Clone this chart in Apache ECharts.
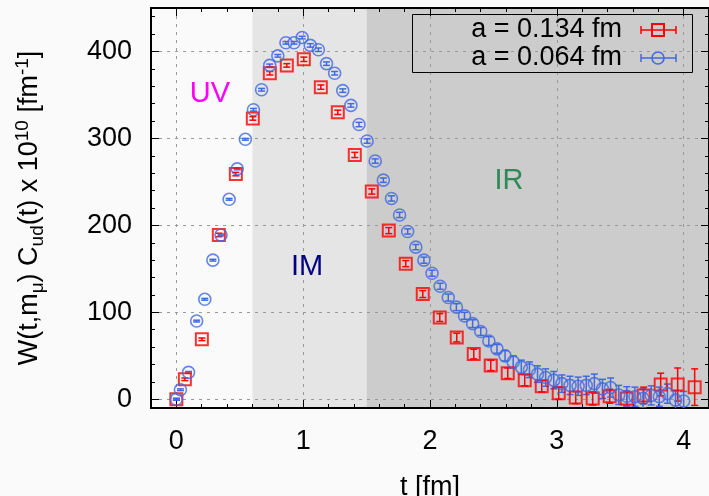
<!DOCTYPE html>
<html><head><meta charset="utf-8">
<script src="https://cdn.jsdelivr.net/npm/echarts/dist/echarts.min.js"></script>
<style>html,body{margin:0;padding:0;background:#fafafa}#c{width:709px;height:496px}</style>
</head><body><div id="c"></div>
<script>
// ---- data ----
const seriesNames = ['a = 0.134 fm', 'a = 0.064 fm'];
const tCoarse = [0, 0.067, 0.201, 0.335, 0.469, 0.603, 0.737, 0.871, 1.005, 1.139, 1.273, 1.407, 1.541, 1.675, 1.809, 1.943, 2.077, 2.211, 2.345, 2.479, 2.613, 2.747, 2.881, 3.015, 3.149, 3.283, 3.417, 3.551, 3.685, 3.819, 3.953, 4.087];
const wCoarse = [0, 23, 69, 189, 259, 323, 375, 384, 391, 359, 330, 281, 239, 194, 156, 121, 94, 71, 52, 39, 30, 22, 15, 7, 2, 1, 3.5, 1, 4.5, 17, 17, 14];
const eCoarse = [1, 1.5, 1.5, 2, 2, 2, 2, 2, 2.5, 2.5, 2.5, 3, 3, 3.5, 3.5, 4, 4.5, 5, 5.5, 6, 6, 6.5, 6.5, 7, 7, 7.5, 8, 8.5, 9.5, 13, 19, 21];
const tFine = [0, 0.032, 0.096, 0.160, 0.224, 0.288, 0.352, 0.416, 0.480, 0.544, 0.608, 0.672, 0.736, 0.800, 0.864, 0.928, 0.992, 1.056, 1.120, 1.184, 1.248, 1.312, 1.376, 1.440, 1.504, 1.568, 1.632, 1.696, 1.760, 1.824, 1.888, 1.952, 2.016, 2.080, 2.144, 2.208, 2.272, 2.336, 2.400, 2.464, 2.528, 2.592, 2.656, 2.720, 2.784, 2.848, 2.912, 2.976, 3.040, 3.104, 3.168, 3.232, 3.296, 3.360, 3.424, 3.488, 3.552, 3.616, 3.680, 3.744, 3.808, 3.872, 3.936, 4.000];
const wFine = [0, 11, 31, 90, 115, 160, 189, 230, 265, 299, 333, 356, 384, 395, 410, 410, 416, 407, 402, 386, 375, 355, 338, 316, 297, 274, 252, 231, 212, 193, 175, 160, 145, 130, 117, 106, 96, 87, 78, 67, 58, 50, 43, 37, 34, 29, 25, 22, 18, 16, 15, 16, 18, 12, 13.5, 5, 3.5, 3, 1, 4.5, 3, 6.5, -1, -2];
const eFine = [1, 1, 1, 1, 1, 1, 1, 1, 1, 1, 1.5, 1.5, 1.5, 1.5, 1.5, 1.5, 1.5, 2, 2, 2, 2, 2, 2, 2.5, 2.5, 2.5, 2.5, 3, 3, 3, 3, 3.5, 3.5, 3.5, 4, 4, 4, 4.5, 4.5, 5, 5, 6, 7, 8, 9, 9.5, 10, 10, 10, 10.5, 10.5, 10.5, 11, 11, 11, 11, 11, 11, 11, 11, 11, 11, 11, 11];
const xTicks = [0, 1, 2, 3, 4];
const xMinorTicks = [0.2, 0.4, 0.6, 0.8, 1.2, 1.4, 1.6, 1.8, 2.2, 2.4, 2.6, 2.8, 3.2, 3.4, 3.6, 3.8];
const yTicks = [0, 100, 200, 300, 400];
const yMinorTicks = [20, 40, 60, 80, 120, 140, 160, 180, 220, 240, 260, 280, 320, 340, 360, 380, 420, 440];
const regionEdges = [[-0.2, 0.6], [0.6, 1.5], [1.5, 4.2]];
const regionLabels = ['UV', 'IM', 'IR'];
const xTitle = 't [fm]';
const yTitle = '{n|W(t,m}{s|μ}{n|) C}{s|ud}{n|(t) x 10}{p|10}{n| [fm}{p|-1}{n|]}';

// ---- style ----
const F = '"Liberation Sans", Arial, sans-serif';
const FS = 27;
const XMIN = -0.2, XMAX = 4.2, YMIN = -10, YMAX = 450;
const RED = '#ff0000', BLUE = '#4169e1';
const bandColors = ['#fafafa', '#e5e5e5', '#cccccc'];
const labelColors = ['#ff00ff', '#000080', '#2e8b57'];

function axisBase(pos, isX) {
  return {type: 'value', position: pos, min: isX ? XMIN : YMIN, max: isX ? XMAX : YMAX};
}
function majorAxis(pos, isX, withLabels) {
  const a = axisBase(pos, isX);
  a.axisLine = {show: true, onZero: false, lineStyle: {color: '#000', width: 2}};
  a.axisTick = {show: true, inside: true, length: 8, customValues: isX ? xTicks : yTicks, lineStyle: {color: '#000', width: 1}};
  a.axisLabel = withLabels ? {show: true, customValues: isX ? xTicks : yTicks, fontSize: FS, fontFamily: F, color: '#000', margin: isX ? 20 : 19} : {show: false};
  a.splitLine = withLabels ? {show: true, lineStyle: {color: '#999', width: 1, type: [3, 5]}} : {show: false};
  return a;
}
function minorAxis(pos, isX) {
  const a = axisBase(pos, isX);
  a.axisLine = {show: false, onZero: false};
  a.axisTick = {show: true, inside: true, length: 4, customValues: isX ? xMinorTicks : yMinorTicks, lineStyle: {color: '#000', width: 1}};
  a.axisLabel = {show: false};
  a.splitLine = {show: false};
  return a;
}

const xMain = majorAxis('bottom', true, true);
Object.assign(xMain, {name: xTitle, nameLocation: 'middle', nameGap: 66, nameTextStyle: {fontSize: FS, fontFamily: F, color: '#000'}});
const yMain = majorAxis('left', false, true);
Object.assign(yMain, {name: yTitle, nameLocation: 'middle', nameRotate: 90, nameGap: 104,
  nameTextStyle: {fontSize: FS, fontFamily: F, color: '#000', rich: {
    n: {fontSize: FS, fontFamily: F, color: '#000', lineHeight: 34, verticalAlign: 'middle'},
    s: {fontSize: 19, fontFamily: F, color: '#000', lineHeight: 19, verticalAlign: 'bottom'},
    p: {fontSize: 19, fontFamily: F, color: '#000', lineHeight: 19, verticalAlign: 'top'}
  }}});

function errSeries(t, w, e, color, lw) {
  return {
    type: 'custom', z: 3, clip: true, silent: true, xAxisIndex: 0, yAxisIndex: 0,
    data: t.map((x, i) => [x, w[i] - e[i], w[i] + e[i]]),
    encode: {x: 0, y: [1, 2]},
    renderItem(params, api) {
      const x = api.value(0);
      const lo = api.coord([x, api.value(1)]);
      const hi = api.coord([x, api.value(2)]);
      const c = 3.5;
      const st = {stroke: color, lineWidth: lw, fill: null};
      return {type: 'group', children: [
        {type: 'line', shape: {x1: lo[0], y1: lo[1], x2: hi[0], y2: hi[1]}, style: st},
        {type: 'line', shape: {x1: lo[0] - c, y1: lo[1], x2: lo[0] + c, y2: lo[1]}, style: st},
        {type: 'line', shape: {x1: hi[0] - c, y1: hi[1], x2: hi[0] + c, y2: hi[1]}, style: st}
      ]};
    }
  };
}

const chart = echarts.init(document.getElementById('c'), null, {renderer: 'canvas'});
const option = {
  backgroundColor: '#fafafa',
  animation: false,
  grid: {left: 151, right: 0, top: 8, bottom: 88, show: false, containLabel: false, outerBoundsMode: 'none'},
  xAxis: [xMain, minorAxis('bottom', true), majorAxis('top', true, false), minorAxis('top', true)],
  yAxis: [yMain, minorAxis('left', false), majorAxis('right', false, false), minorAxis('right', false)],
  series: [
    {
      type: 'custom', z: -1, silent: true, clip: true, xAxisIndex: 0, yAxisIndex: 0,
      data: regionEdges.map(r => [r[0], r[1]]),
      encode: {x: [0, 1]},
      renderItem(params, api) {
        const p0 = api.coord([api.value(0), YMAX]);
        const p1 = api.coord([api.value(1), YMIN]);
        return {type: 'rect', shape: {x: p0[0], y: p0[1], width: p1[0] - p0[0], height: p1[1] - p0[1]},
          style: {fill: bandColors[params.dataIndex]}};
      }
    },
    errSeries(tCoarse, wCoarse, eCoarse, RED, 1.5),
    {
      type: 'scatter', name: seriesNames[0], z: 4, symbol: 'rect', symbolSize: 12,
      data: tCoarse.map((x, i) => [x, wCoarse[i]]),
      itemStyle: {color: 'rgba(0,0,0,0)', borderColor: RED, borderWidth: 2}
    },
    errSeries(tFine, wFine, eFine, BLUE, 1.5),
    {
      type: 'scatter', name: seriesNames[1], z: 5, symbol: 'circle', symbolSize: 12,
      data: tFine.map((x, i) => [x, wFine[i]]),
      itemStyle: {color: 'rgba(0,0,0,0)', borderColor: BLUE, borderWidth: 1.6}
    }
  ],
  graphic: [
    {type: 'text', x: 210, y: 94, z: 10, style: {text: regionLabels[0], fill: labelColors[0], font: '29px ' + F, textAlign: 'center', textVerticalAlign: 'middle'}},
    {type: 'text', x: 307, y: 267, z: 10, style: {text: regionLabels[1], fill: labelColors[1], font: '29px ' + F, textAlign: 'center', textVerticalAlign: 'middle'}},
    {type: 'text', x: 509, y: 181, z: 10, style: {text: regionLabels[2], fill: labelColors[2], font: '29px ' + F, textAlign: 'center', textVerticalAlign: 'middle'}},
    {type: 'rect', z: 20, shape: {x: 412.5, y: 14.5, width: 280, height: 58}, style: {fill: 'none', stroke: '#000', lineWidth: 1}},
    {type: 'text', x: 622, y: 30, z: 21, style: {text: seriesNames[0], fill: '#000', font: FS + 'px ' + F, textAlign: 'right', textVerticalAlign: 'middle'}},
    {type: 'text', x: 622, y: 58, z: 21, style: {text: seriesNames[1], fill: '#000', font: FS + 'px ' + F, textAlign: 'right', textVerticalAlign: 'middle'}},
    {type: 'group', z: 21, children: [
      {type: 'line', shape: {x1: 641, y1: 30, x2: 676, y2: 30}, style: {stroke: RED, lineWidth: 1.5}},
      {type: 'line', shape: {x1: 641, y1: 26, x2: 641, y2: 34}, style: {stroke: RED, lineWidth: 1.5}},
      {type: 'line', shape: {x1: 676, y1: 26, x2: 676, y2: 34}, style: {stroke: RED, lineWidth: 1.5}},
      {type: 'rect', shape: {x: 652, y: 24, width: 12, height: 12}, style: {fill: 'none', stroke: RED, lineWidth: 2}},
      {type: 'line', shape: {x1: 641, y1: 58, x2: 676, y2: 58}, style: {stroke: BLUE, lineWidth: 1.5}},
      {type: 'line', shape: {x1: 641, y1: 54, x2: 641, y2: 62}, style: {stroke: BLUE, lineWidth: 1.5}},
      {type: 'line', shape: {x1: 676, y1: 54, x2: 676, y2: 62}, style: {stroke: BLUE, lineWidth: 1.5}},
      {type: 'circle', shape: {cx: 658, cy: 58, r: 6}, style: {fill: 'none', stroke: BLUE, lineWidth: 1.6}}
    ]}
  ]
};
chart.setOption(option);
</script>
</body></html>
